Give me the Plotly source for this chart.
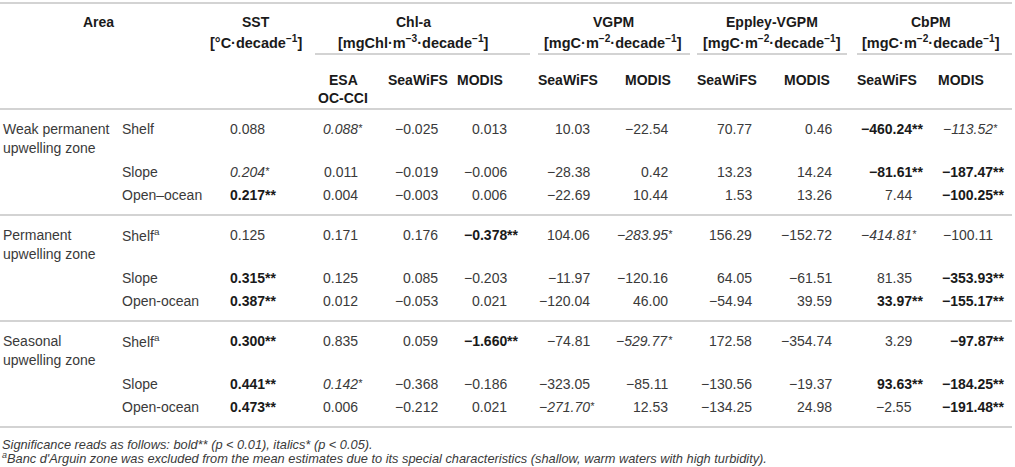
import plotly.graph_objects as go

# ---- table content ----
zones = ["Weak permanent<br>upwelling zone", "Permanent<br>upwelling zone", "Seasonal<br>upwelling zone"]
subareas = [
    ["Shelf", "Slope", "Open–ocean"],
    ["Shelf<sup>a</sup>", "Slope", "Open-ocean"],
    ["Shelf<sup>a</sup>", "Slope", "Open-ocean"],
]

groups = ["SST", "Chl-a", "VGPM", "Eppley-VGPM", "CbPM"]
units = [
    "[°C·decade<sup>−1</sup>]",
    "[mgChl·m<sup>−3</sup>·decade<sup>−1</sup>]",
    "[mgC·m<sup>−2</sup>·decade<sup>−1</sup>]",
    "[mgC·m<sup>−2</sup>·decade<sup>−1</sup>]",
    "[mgC·m<sup>−2</sup>·decade<sup>−1</sup>]",
]
sensors = ["", "ESA<br>OC-CCI", "SeaWiFS", "MODIS", "SeaWiFS", "MODIS",
           "SeaWiFS", "MODIS", "SeaWiFS", "MODIS"]

# values, rows in order: weak (shelf, slope, open), permanent (...), seasonal (...)
sst = [0.088, 0.204, 0.217, 0.125, 0.315, 0.387, 0.300, 0.441, 0.473]
chl_esa = [0.088, 0.011, 0.004, 0.171, 0.125, 0.012, 0.835, 0.142, 0.006]
chl_seawifs = [-0.025, -0.019, -0.003, 0.176, 0.085, -0.053, 0.059, -0.368, -0.212]
chl_modis = [0.013, -0.006, 0.006, -0.378, -0.203, 0.021, -1.660, -0.186, 0.021]
vgpm_seawifs = [10.03, -28.38, -22.69, 104.06, -11.97, -120.04, -74.81, -323.05, -271.70]
vgpm_modis = [-22.54, 0.42, 10.44, -283.95, -120.16, 46.00, -529.77, -85.11, 12.53]
eppley_seawifs = [70.77, 13.23, 1.53, 156.29, 64.05, -54.94, 172.58, -130.56, -134.25]
eppley_modis = [0.46, 14.24, 13.26, -152.72, -61.51, 39.59, -354.74, -19.37, 24.98]
cbpm_seawifs = [-460.24, -81.61, 7.44, -414.81, 81.35, 33.97, 3.29, 93.63, -2.55]
cbpm_modis = [-113.52, -187.47, -100.25, -100.11, -353.93, -155.17, -97.87, -184.25, -191.48]

# significance: 0 none, 1 p<0.05 (italic*), 2 p<0.01 (bold**)
sst_sig = [0, 1, 2, 0, 2, 2, 2, 2, 2]
chl_esa_sig = [1, 0, 0, 0, 0, 0, 0, 1, 0]
chl_seawifs_sig = [0, 0, 0, 0, 0, 0, 0, 0, 0]
chl_modis_sig = [0, 0, 0, 2, 0, 0, 2, 0, 0]
vgpm_seawifs_sig = [0, 0, 0, 0, 0, 0, 0, 0, 1]
vgpm_modis_sig = [0, 0, 0, 1, 0, 0, 1, 0, 0]
eppley_seawifs_sig = [0, 0, 0, 0, 0, 0, 0, 0, 0]
eppley_modis_sig = [0, 0, 0, 0, 0, 0, 0, 0, 0]
cbpm_seawifs_sig = [2, 2, 0, 1, 0, 2, 0, 2, 0]
cbpm_modis_sig = [1, 2, 2, 0, 2, 2, 2, 2, 2]

footnotes = [
    "Significance reads as follows: bold** (p < 0.01), italics* (p < 0.05).",
    "<sup>a</sup>Banc d'Arguin zone was excluded from the mean estimates due to its special "
    "characteristics (shallow, warm waters with high turbidity).",
]

columns = [
    (sst, sst_sig, 3), (chl_esa, chl_esa_sig, 3), (chl_seawifs, chl_seawifs_sig, 3),
    (chl_modis, chl_modis_sig, 3), (vgpm_seawifs, vgpm_seawifs_sig, 2),
    (vgpm_modis, vgpm_modis_sig, 2), (eppley_seawifs, eppley_seawifs_sig, 2),
    (eppley_modis, eppley_modis_sig, 2), (cbpm_seawifs, cbpm_seawifs_sig, 2),
    (cbpm_modis, cbpm_modis_sig, 2),
]

# ---- layout geometry (pixel-like axis units) ----
W, H = 1015, 467
FONT = "Liberation Sans, Arial, sans-serif"
TXT = "#3a3a3a"
DARK = "#1a1a1a"
LINE = "#c4c4c4"
FS = 14

col_right = [265, 358, 438, 507, 590, 668, 752, 832, 912, 993]   # right edge of digits
sensor_x = [255, 343, 418, 480, 568, 648, 727, 807, 887, 961]
group_x = [256, 413, 613, 772, 931]
group_span = [None, (315, 530), (538, 690), (697, 847), (857, 1012)]

header_bottom = 109
group_h = 106
row_off = [20, 63, 86]

fig = go.Figure()
ann = []


def add_text(x, y, text, anchor="center", size=FS, color=TXT):
    ann.append(dict(x=x, y=y, xref="x", yref="y", text=text, showarrow=False,
                    xanchor=anchor, yanchor="middle", borderpad=0,
                    font=dict(family=FONT, size=size, color=color)))


def fmt(v, d):
    s = f"{abs(v):.{d}f}"
    return ("−" + s) if v < 0 else s


# header
add_text(98, 22, "<b>Area</b>", color=DARK)
for gx, g, u in zip(group_x, groups, units):
    add_text(gx, 22, f"<b>{g}</b>", color=DARK)
    add_text(gx, 42, f"<b>{u}</b>", color=DARK, size=14.5)
for sx, s in zip(sensor_x, sensors):
    for li, part in enumerate(s.split("<br>")):
        if part:
            add_text(sx, 80 + 18 * li, f"<b>{part}</b>", color=DARK)

# body
for gi, zone in enumerate(zones):
    base = header_bottom + gi * group_h
    for li, part in enumerate(zone.split("<br>")):
        add_text(2, base + row_off[0] + 19 * li, part, anchor="left")
    for ri, sub in enumerate(subareas[gi]):
        y = base + row_off[ri]
        add_text(121, y, sub, anchor="left")
        idx = gi * 3 + ri
        for cx, (vals, sigs, d) in zip(col_right, columns):
            num = fmt(vals[idx], d)
            sig = sigs[idx]
            if sig == 2:
                add_text(cx + 1, y, f"<b>{num}</b>", anchor="right", color=DARK)
                add_text(cx - 1, y, "<b>**</b>", anchor="left", color=DARK)
            elif sig == 1:
                add_text(cx + 1, y, f"<i>{num}</i>", anchor="right")
                add_text(cx - 1, y - 1, "<i>*</i>", anchor="left", size=10.5)
            else:
                add_text(cx + 1, y, num, anchor="right")

# footnotes
add_text(1, 444, f"<i>{footnotes[0]}</i>", anchor="left", size=12.8)
add_text(1, 458, f"<i>{footnotes[1]}</i>", anchor="left", size=12.8)

# rules
shapes = []
for y in [3, header_bottom, header_bottom + group_h, header_bottom + 2 * group_h,
          header_bottom + 3 * group_h]:
    shapes.append(dict(type="line", xref="x", yref="y", x0=0, x1=1012, y0=y, y1=y,
                       line=dict(color=LINE, width=1.6)))
for span in group_span:
    if span:
        shapes.append(dict(type="line", xref="x", yref="y", x0=span[0], x1=span[1],
                           y0=54, y1=54, line=dict(color=LINE, width=1.6)))

fig.update_layout(
    width=W, height=H,
    margin=dict(l=0, r=0, t=0, b=0),
    paper_bgcolor="white", plot_bgcolor="white",
    xaxis=dict(range=[0, W], visible=False, fixedrange=True),
    yaxis=dict(range=[H, 0], visible=False, fixedrange=True),
    annotations=ann, shapes=shapes,
    showlegend=False,
)
# drop the default page margin so the figure fills the window exactly
fig.write_html("out.html", config={"displayModeBar": False},
               post_script="document.body.style.margin='0';")
